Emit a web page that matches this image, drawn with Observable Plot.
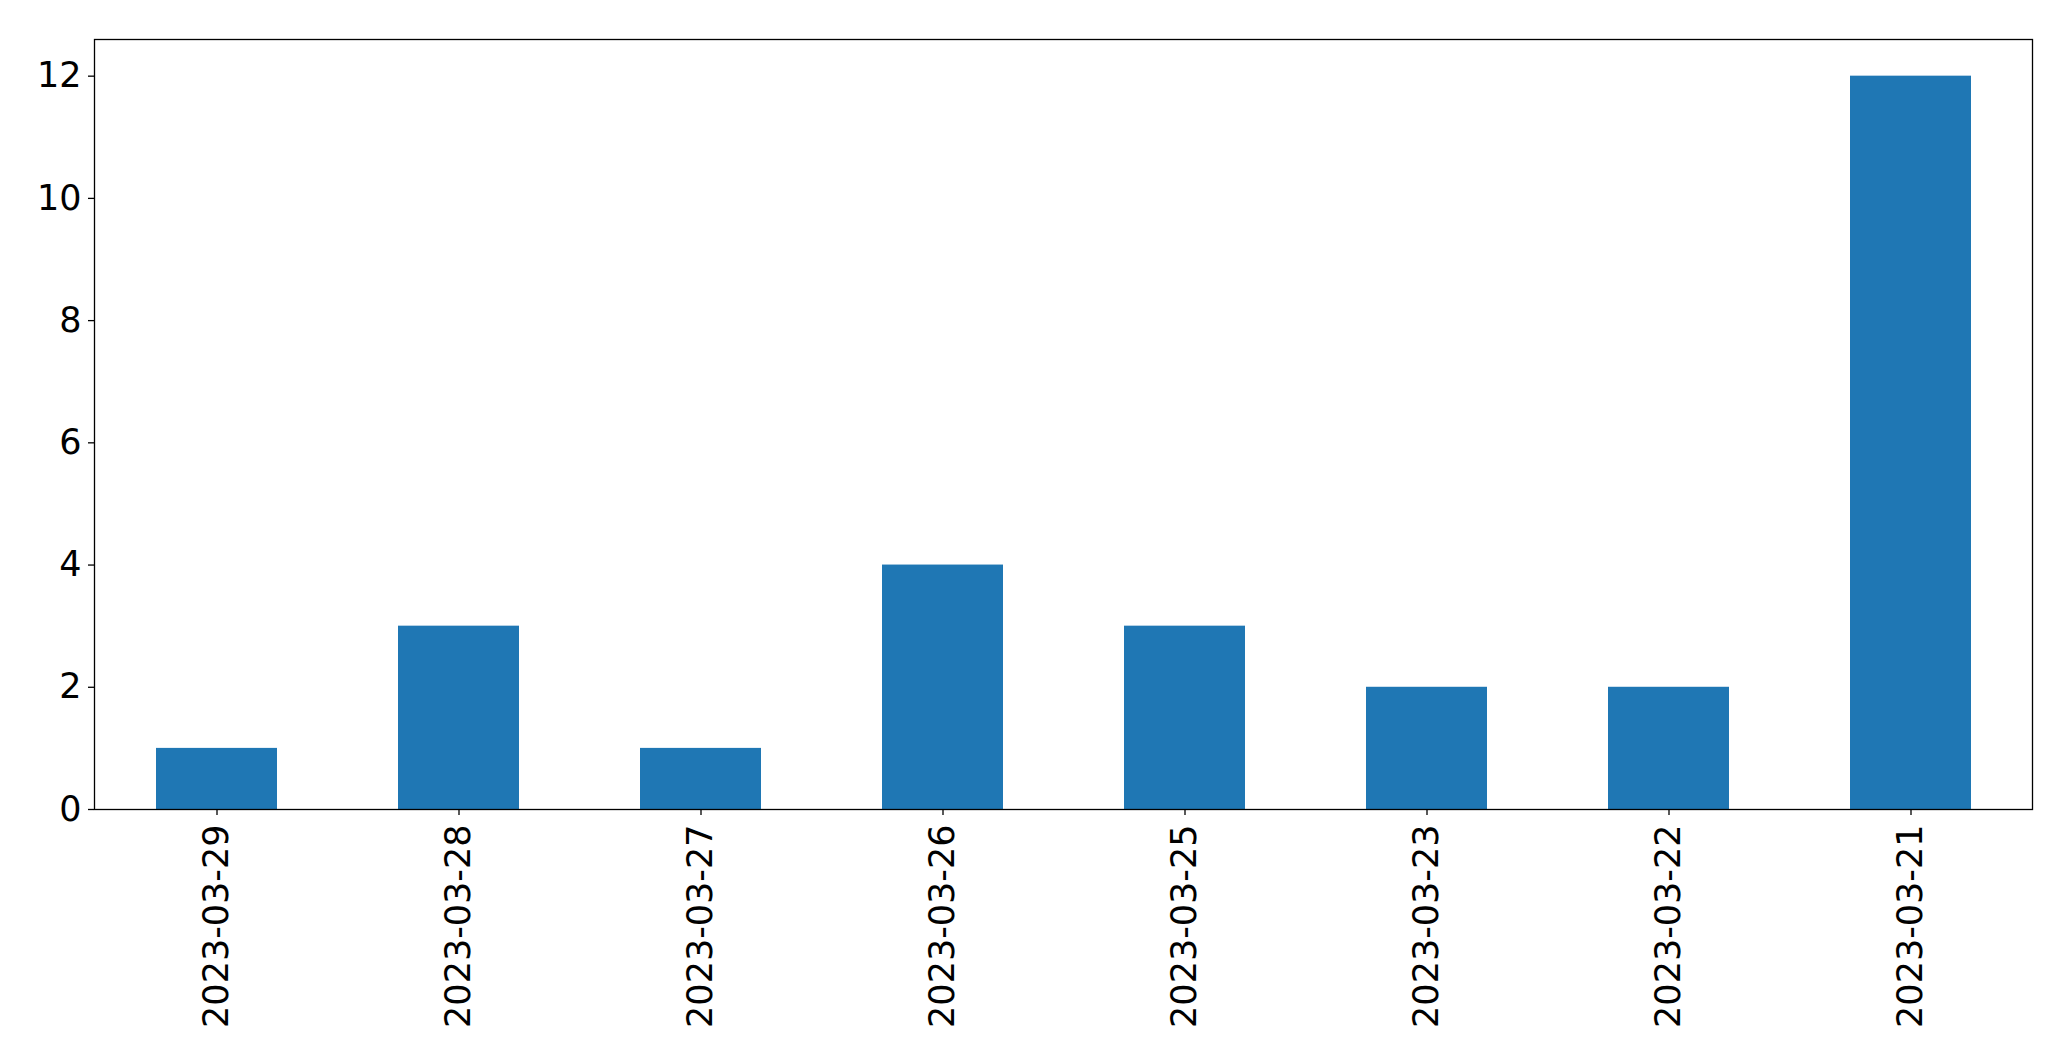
<!DOCTYPE html>
<html>
<head>
<meta charset="utf-8">
<script src="https://cdn.jsdelivr.net/npm/d3@7"></script>
<script src="https://cdn.jsdelivr.net/npm/@observablehq/plot@0.6"></script>
<style>
  html, body { margin: 0; padding: 0; background: #fff; }
  svg { display: block; }
</style>
</head>
<body>
<div id="chart"></div>
<script>
const dates = ["2023-03-29", "2023-03-28", "2023-03-27", "2023-03-26", "2023-03-25", "2023-03-23", "2023-03-22", "2023-03-21"];
const counts = [1, 3, 1, 4, 3, 2, 2, 12];
const yTicks = [0, 2, 4, 6, 8, 10, 12];

const data = dates.map((d, i) => ({date: d, count: counts[i]}));

const chart = Plot.plot({
  width: 2071,
  height: 1061,
  marginLeft: 94,
  marginRight: 39,
  marginTop: 39,
  marginBottom: 252,
  style: {fontFamily: "DejaVu Sans", fontSize: "35px", color: "#000", background: "#fff"},
  x: {domain: dates, paddingInner: 0.5, paddingOuter: 0.25, label: null},
  y: {domain: [0, 12.6], label: null},
  marks: [
    Plot.barY(data, {x: "date", y: "count", fill: "#1f77b4"}),
    Plot.axisY({ticks: yTicks, tickSize: 6, tickPadding: 7, fontSize: 35, label: null, strokeWidth: 1.3}),
    Plot.axisX({tickSize: 6, tickPadding: 9, tickRotate: -90, fontSize: 35, label: null, strokeWidth: 1.3}),
    Plot.frame({stroke: "#000", strokeWidth: 1.3})
  ]
});
document.getElementById("chart").appendChild(chart);
</script>
</body>
</html>
